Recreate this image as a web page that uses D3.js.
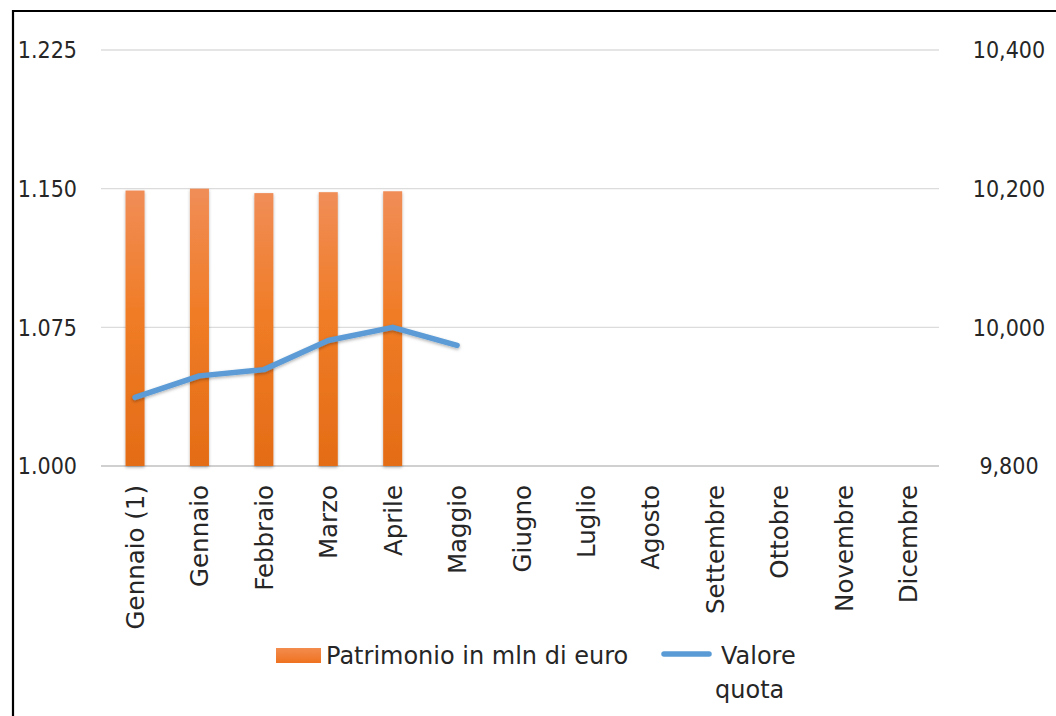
<!DOCTYPE html>
<html>
<head>
<meta charset="utf-8">
<script src="https://cdn.jsdelivr.net/npm/d3@7"></script>
<style>
  html, body { margin: 0; padding: 0; background: #fff; }
  svg { display: block; }
  text { font-family: "DejaVu Sans", "Liberation Sans", sans-serif; fill: #262626; }
  text.num { font-family: "DejaVu Sans Condensed", "DejaVu Sans", sans-serif; }
</style>
</head>
<body>
<svg id="chart" width="1056" height="716"></svg>
<script>
// Monthly figures
const categories = ["Gennaio (1)", "Gennaio", "Febbraio", "Marzo", "Aprile", "Maggio",
  "Giugno", "Luglio", "Agosto", "Settembre", "Ottobre", "Novembre", "Dicembre"];
// Patrimonio in mln di euro (left axis)
const patrimonio = [1149, 1150, 1147.6, 1148.1, 1148.6, null, null, null, null, null, null, null, null];
// Valore quota (right axis)
const valoreQuota = [9899, 9930, 9939, 9981, 10000, 9974, null, null, null, null, null, null, null];
// Axis ticks
const leftTicks = [1000, 1075, 1150, 1225];
const rightTicks = [9800, 10000, 10200, 10400];
const legendLabels = ["Patrimonio in mln di euro", ["Valore", "quota"]];

const svg = d3.select("#chart");
const plot = { left: 103, right: 940, top: 50, bottom: 466 };

const x = d3.scaleBand().domain(categories).range([plot.left, plot.right]).paddingInner(0.705).paddingOuter(0.35);
const yL = d3.scaleLinear().domain([1000, 1225]).range([plot.bottom, plot.top]);
const yR = d3.scaleLinear().domain([9800, 10400]).range([plot.bottom, plot.top]);

const fmtLeft = d3.formatLocale({ decimal: ",", thousands: ".", grouping: [3], currency: ["", "€"] }).format(",d");
const fmtRight = d3.format(",d");

const defs = svg.append("defs");
const grad = defs.append("linearGradient").attr("id", "barGrad").attr("x1", 0).attr("y1", 0).attr("x2", 0).attr("y2", 1);
grad.append("stop").attr("offset", "0%").attr("stop-color", "#F08D57");
grad.append("stop").attr("offset", "45%").attr("stop-color", "#F07C26");
grad.append("stop").attr("offset", "100%").attr("stop-color", "#E36C16");
const lgGrad = defs.append("linearGradient").attr("id", "legGrad").attr("x1", 0).attr("y1", 0).attr("x2", 0).attr("y2", 1);
lgGrad.append("stop").attr("offset", "0%").attr("stop-color", "#F38C4E");
lgGrad.append("stop").attr("offset", "100%").attr("stop-color", "#EE7220");

const shadow = defs.append("filter").attr("id", "shadow").attr("x", "-50%").attr("y", "-10%").attr("width", "200%").attr("height", "130%");
shadow.append("feDropShadow").attr("dx", 0).attr("dy", 1.5).attr("stdDeviation", 1.5).attr("flood-color", "#000").attr("flood-opacity", 0.3);

// Frame
svg.append("path").attr("d", "M13,716 V11 H1056").attr("fill", "none").attr("stroke", "#000").attr("stroke-width", 2.2);

// Gridlines
const xGridX1 = 101, xGridX2 = 939;
svg.append("g").selectAll("line").data(leftTicks).join("line")
  .attr("x1", xGridX1).attr("x2", xGridX2)
  .attr("y1", d => yL(d)).attr("y2", d => yL(d))
  .attr("stroke", d => d === 1000 ? "#d0d0d0" : "#dcdcdc")
  .attr("stroke-width", d => d === 1000 ? 2 : 1.3);

// Left axis labels
svg.append("g").selectAll("text").data(leftTicks).join("text")
  .attr("class", "num")
  .attr("x", 77).attr("y", d => yL(d)).attr("dy", "0.36em")
  .attr("text-anchor", "end").attr("font-size", 23)
  .text(d => fmtLeft(d));

// Right axis labels
svg.append("g").selectAll("text").data(rightTicks).join("text")
  .attr("class", "num")
  .attr("x", 1009).attr("y", d => yR(d)).attr("dy", "0.36em")
  .attr("text-anchor", "middle").attr("font-size", 23)
  .text(d => fmtRight(d));

// Category labels
svg.append("g").selectAll("text").data(categories).join("text")
  .attr("transform", d => `translate(${x(d) + x.bandwidth() / 2 + 9},485) rotate(-90)`)
  .attr("text-anchor", "end").attr("font-size", 24.5)
  .text(d => d);

// Bars
const barData = categories.map((c, i) => ({ c, v: patrimonio[i] })).filter(d => d.v != null);
svg.append("g").selectAll("rect").data(barData).join("rect")
  .attr("x", d => x(d.c)).attr("width", x.bandwidth())
  .attr("y", d => yL(d.v)).attr("height", d => yL(1000) - yL(d.v))
  .attr("fill", "url(#barGrad)").attr("filter", "url(#shadow)");

// Line
const lineData = categories.map((c, i) => ({ c, v: valoreQuota[i] })).filter(d => d.v != null);
const line = d3.line().x(d => x(d.c) + x.bandwidth() / 2).y(d => yR(d.v));
svg.append("path").datum(lineData)
  .attr("d", line).attr("fill", "none")
  .attr("stroke", "#5B9BD5").attr("stroke-width", 5.5)
  .attr("stroke-linecap", "round").attr("stroke-linejoin", "round")
  .attr("filter", "url(#shadow)");

// Legend
const lg = svg.append("g");
lg.append("rect").attr("x", 276).attr("y", 648).attr("width", 45).attr("height", 15).attr("fill", "url(#legGrad)");
lg.append("text").attr("x", 326).attr("y", 664).attr("font-size", 24).text(legendLabels[0]);
lg.append("line").attr("x1", 664).attr("x2", 709).attr("y1", 654).attr("y2", 654)
  .attr("stroke", "#5B9BD5").attr("stroke-width", 5.5).attr("stroke-linecap", "round");
lg.append("text").attr("x", 721).attr("y", 664).attr("font-size", 24).text(legendLabels[1][0]);
lg.append("text").attr("x", 715).attr("y", 698).attr("font-size", 24).text(legendLabels[1][1]);
</script>
</body>
</html>
